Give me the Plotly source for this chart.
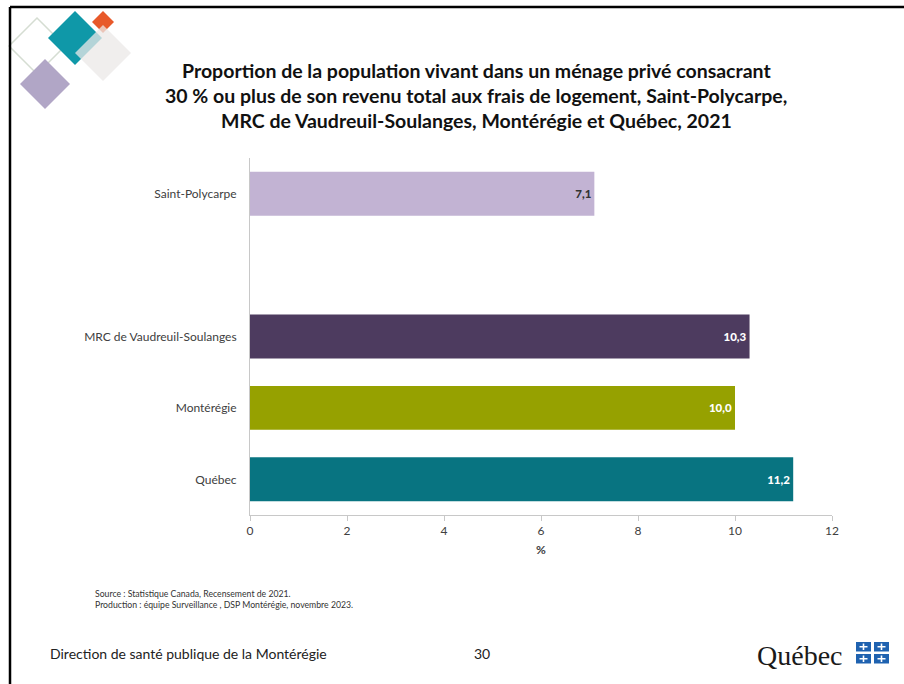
import plotly.graph_objects as go

# ---- data ----
categories = ["Saint-Polycarpe", "MRC de Vaudreuil-Soulanges", "Montérégie", "Québec"]
values = [7.1, 10.3, 10.0, 11.2]
value_labels = ["7,1", "10,3", "10,0", "11,2"]
bar_colors = ["#c2b3d3", "#4d3b5f", "#96a100", "#087481"]
label_colors = ["#333333", "#ffffff", "#ffffff", "#ffffff"]
# order bottom -> top, including a blank slot between Saint-Polycarpe and the MRC
category_order = ["Québec", "Montérégie", "MRC de Vaudreuil-Soulanges", " ", "Saint-Polycarpe"]
x_ticks = [0, 2, 4, 6, 8, 10, 12]

W, H = 904, 684
L, R, T, B = 250, 72, 158, 169
PW, PH = W - L - R, H - T - B

def px(x):
    return (x - L) / PW

def py(y):
    return (H - B - y) / PH

FONT = "Lato"

fig = go.Figure()
fig.add_trace(go.Bar(
    y=categories, x=values, orientation="h",
    marker=dict(color=bar_colors, line=dict(width=0)),
    text=value_labels, textposition="inside", insidetextanchor="end",
    textfont=dict(color=label_colors, size=11.5, family=FONT + " Black"),
    constraintext="none", cliponaxis=False, hoverinfo="skip",
))

fig.update_layout(
    width=W, height=H, margin=dict(l=L, r=R, t=T, b=B),
    paper_bgcolor="white", plot_bgcolor="white", showlegend=False,
    bargap=0.385,
    font=dict(family=FONT, color="#333333"),
    xaxis=dict(range=[0, 12], tickvals=x_ticks, ticktext=[str(t) for t in x_ticks],
               showgrid=False, zeroline=False, showline=True, linecolor="#c8c8c8",
               linewidth=1, ticks="outside", ticklen=5, tickcolor="#c8c8c8",
               tickfont=dict(size=12, color="#404040"),
               title=dict(text="<b>%</b>", font=dict(size=12, color="#404040"), standoff=8)),
    yaxis=dict(categoryorder="array", categoryarray=category_order, type="category",
               showgrid=False, zeroline=False, showline=True, linecolor="#c8c8c8",
               linewidth=1, ticks="", tickfont=dict(size=12, color="#404040"),
               ticklabelstandoff=10),
)

title_lines = [
    "Proportion de la population vivant dans un ménage privé consacrant",
    "30 % ou plus de son revenu total aux frais de logement, Saint-Polycarpe,",
    "MRC de Vaudreuil-Soulanges, Montérégie et Québec, 2021",
]
for i, line in enumerate(title_lines):
    fig.add_annotation(text="<b>" + line + "</b>", xref="paper", yref="paper",
                       x=px(476), y=py(70 + 25.5 * i), xanchor="center", yanchor="middle",
                       showarrow=False, font=dict(size=19.5, color="#111111", family=FONT))

fig.add_annotation(text="Source : Statistique Canada, Recensement de 2021.<br>"
                        "Production : équipe Surveillance , DSP Montérégie, novembre 2023.",
                   xref="paper", yref="paper", x=px(93), y=py(599), xanchor="left",
                   yanchor="middle", align="left", showarrow=False,
                   font=dict(size=8.7, color="#333333", family=FONT))
fig.add_annotation(text="Direction de santé publique de la Montérégie", xref="paper", yref="paper",
                   x=px(48), y=py(653), xanchor="left", yanchor="middle", showarrow=False,
                   font=dict(size=14, color="#222222", family=FONT))
fig.add_annotation(text="30", xref="paper", yref="paper", x=px(482), y=py(653),
                   xanchor="center", yanchor="middle", showarrow=False,
                   font=dict(size=14, color="#222222", family=FONT))
fig.add_annotation(text="Québec", xref="paper", yref="paper", x=px(755), y=py(655),
                   xanchor="left", yanchor="middle", showarrow=False,
                   font=dict(size=28, color="#1a1a1a", family="Liberation Serif"))

shapes = []

def diamond(cx, cy, h, fill=None, line=None, opacity=1.0, lw=1.5):
    path = (f"M {px(cx)},{py(cy - h)} L {px(cx + h)},{py(cy)} "
            f"L {px(cx)},{py(cy + h)} L {px(cx - h)},{py(cy)} Z")
    shapes.append(dict(type="path", xref="paper", yref="paper", path=path,
                       fillcolor=fill if fill else "rgba(0,0,0,0)",
                       line=dict(color=line if line else "rgba(0,0,0,0)", width=lw),
                       opacity=opacity, layer="above"))

diamond(37, 46, 28, fill=None, line="#d5ddd2", lw=1.5)
diamond(45, 84, 25, fill="#b1a6c6")
diamond(75, 38, 27, fill="#0f98a8")
diamond(103, 22, 11, fill="#e8592a")
diamond(103, 53, 28, fill="#ece9e8", opacity=0.75)

# Québec flag squares
for sx in (856, 874):
    for sy in (642, 654):
        shapes.append(dict(type="rect", xref="paper", yref="paper",
                           x0=px(sx), x1=px(sx + 15), y0=py(sy), y1=py(sy + 9.5),
                           fillcolor="#1f62b0", line=dict(width=0)))
        shapes.append(dict(type="rect", xref="paper", yref="paper",
                           x0=px(sx + 6.7), x1=px(sx + 8.3), y0=py(sy + 1.5), y1=py(sy + 8),
                           fillcolor="white", line=dict(width=0)))
        shapes.append(dict(type="rect", xref="paper", yref="paper",
                           x0=px(sx + 3.5), x1=px(sx + 11.5), y0=py(sy + 4), y1=py(sy + 5.5),
                           fillcolor="white", line=dict(width=0)))

# slide border (top and left)
shapes.append(dict(type="line", xref="paper", yref="paper", x0=px(10), x1=px(904),
                   y0=py(7), y1=py(7), line=dict(color="black", width=2.5)))
shapes.append(dict(type="line", xref="paper", yref="paper", x0=px(10), x1=px(10),
                   y0=py(7), y1=py(684), line=dict(color="black", width=2.5)))

fig.update_layout(shapes=shapes)
fig.write_html("out.html", config={"displayModeBar": False},
               post_script="document.body.style.margin='0';")
